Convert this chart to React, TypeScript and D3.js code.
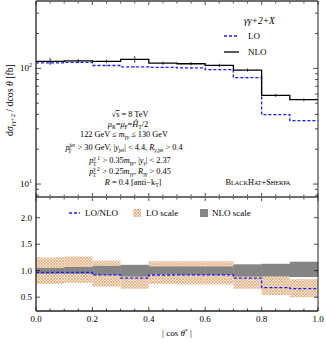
import React from 'react';
import * as d3 from 'd3';

// bin edges in |cos theta*|
const binEdges = [0, 0.1, 0.2, 0.3, 0.4, 0.5, 0.6, 0.7, 0.8, 0.9, 1.0];

// dsigma / dcos theta [fb]
const nloValues = [115, 116, 115, 119.6, 111, 109.6, 106, 96.7, 58.5, 53.6];
const nloErrors = [8, 4, 4, 8, 3.5, 3.5, 3.5, 3, 1.8, 1.7];
const loValues = [111.5, 112.5, 105.8, 102.9, 102, 100.8, 97.5, 83.2, 39.8, 35.4];
const loErrors = [1.5, 1.5, 1.5, 1.5, 1.2, 1.2, 1.2, 1, 0.6, 0.6];

// scale bands, as ratio to NLO
const loScaleHi = [1.25, 1.27, 1.19, 1.11, 1.18, 1.18, 1.18, 1.11, 0.89, 0.84];
const loScaleLo = [0.75, 0.77, 0.70, 0.66, 0.75, 0.74, 0.74, 0.66, 0.54, 0.50];
const nloScaleHi = [1.05, 1.07, 1.09, 1.11, 1.08, 1.08, 1.08, 1.12, 1.13, 1.17];
const nloScaleLo = [0.94, 0.94, 0.92, 0.89, 0.93, 0.92, 0.92, 0.89, 0.89, 0.88];

const xTicks = [0, 0.2, 0.4, 0.6, 0.8, 1.0];
const ratioTicks = [0.5, 1.0, 1.5, 2.0];

const infoLines = ['sqrt', 'mu', 'mgg', 'jet', 'g1', 'g2', 'R'];

const W = 326;
const H = 345;
const left = 36;
const right = 318;
const upTop = 1;
const upBottom = 197;
const lowBottom = 311;

const serif = '"Liberation Serif", "DejaVu Serif", serif';

function stepPath(vals: number[], y: (v: number) => number, x: d3.ScaleLinear<number, number>) {
  let d = '';
  vals.forEach((v, i) => {
    const x0 = x(binEdges[i]);
    const x1 = x(binEdges[i + 1]);
    d += (i === 0 ? `M${x0},${y(v)}` : `L${x0},${y(v)}`) + `L${x1},${y(v)}`;
  });
  return d;
}

export default function App() {
  const x = d3.scaleLinear().domain([0, 1]).range([left, right]);
  const yUp = d3.scaleLog().domain([7.73, 382]).range([upBottom, upTop]);
  const yLow = d3.scaleLinear().domain([0.24, 2.39]).range([lowBottom, upBottom]);

  const ratio = loValues.map((v, i) => v / nloValues[i]);

  const xMinor = d3.range(0, 1.0001, 0.05);
  const logMinor: number[] = [];
  [1, 10, 100].forEach(dec => {
    for (let k = 1; k < 10; k++) {
      const v = dec * k;
      if (v > 7.73 && v < 382) logMinor.push(v);
    }
  });

  const bandArea = (hi: number[], lo: number[]) =>
    hi.map((h, i) => ({ x0: x(binEdges[i]), x1: x(binEdges[i + 1]), y0: yLow(h), y1: yLow(lo[i]) }));

  const frame = '#6d6d6d';

  return (
    <svg width={W} height={H} style={{ position: 'absolute', left: 0, top: 0, background: '#fff' }}
      fontFamily={serif}>
      <defs>
        <pattern id="hatch" width="3" height="3" patternUnits="userSpaceOnUse">
          <rect width="3" height="3" fill="#f8e6d4" />
          <path d="M0,0L3,3M3,0L0,3" stroke="#d3935c" strokeWidth="0.55" />
        </pattern>
      </defs>

      {/* ---------- upper panel ---------- */}
      <path d={stepPath(loValues, yUp, x)} fill="none" stroke="#1a1aff" strokeWidth={1.3} strokeDasharray="3,2" />
      {loValues.map((v, i) => {
        const cx = x((binEdges[i] + binEdges[i + 1]) / 2);
        return <line key={'le' + i} x1={cx} x2={cx} y1={yUp(v + loErrors[i])} y2={yUp(v - loErrors[i])}
          stroke="#1a1aff" strokeWidth={0.8} />;
      })}
      <path d={stepPath(nloValues, yUp, x)} fill="none" stroke="#000" strokeWidth={1.3} />
      {nloValues.map((v, i) => {
        const cx = x((binEdges[i] + binEdges[i + 1]) / 2);
        return <line key={'ne' + i} x1={cx} x2={cx} y1={yUp(v + nloErrors[i])} y2={yUp(v - nloErrors[i])}
          stroke="#000" strokeWidth={0.8} />;
      })}

      {/* log ticks */}
      {logMinor.map(v => {
        const major = v === 10 || v === 100;
        const l = major ? 5 : 3;
        return (
          <g key={'lt' + v}>
            <line x1={left} x2={left + l} y1={yUp(v)} y2={yUp(v)} stroke="#000" strokeWidth={0.7} />
            <line x1={right} x2={right - l} y1={yUp(v)} y2={yUp(v)} stroke="#000" strokeWidth={0.7} />
          </g>
        );
      })}
      <text x={left - 4} y={yUp(100) + 3} fontSize={9} textAnchor="end">10<tspan dy={-4} fontSize={6}>2</tspan></text>
      <text x={left - 4} y={yUp(10) + 3} fontSize={9} textAnchor="end">10<tspan dy={-4} fontSize={6}>1</tspan></text>

      {/* x ticks both panels */}
      {xMinor.map((v, i) => {
        const major = Math.abs(v * 5 - Math.round(v * 5)) < 1e-6;
        const l = major ? 4 : 2.5;
        return (
          <g key={'xt' + i}>
            <line x1={x(v)} x2={x(v)} y1={upTop} y2={upTop + l} stroke="#000" strokeWidth={0.7} />
            <line x1={x(v)} x2={x(v)} y1={upBottom} y2={upBottom - l} stroke="#000" strokeWidth={0.7} />
            <line x1={x(v)} x2={x(v)} y1={upBottom} y2={upBottom + l} stroke="#000" strokeWidth={0.7} />
            <line x1={x(v)} x2={x(v)} y1={lowBottom} y2={lowBottom - l} stroke="#000" strokeWidth={0.7} />
          </g>
        );
      })}

      {/* process label and legend */}
      <text x={244} y={24} fontSize={9.5} fontStyle="italic">γγ+2+X</text>
      <line x1={224} x2={239} y1={36} y2={36} stroke="#1a1aff" strokeWidth={1.3} strokeDasharray="3,2" />
      <text x={248} y={39} fontSize={9}>LO</text>
      <line x1={224} x2={239} y1={52} y2={52} stroke="#000" strokeWidth={1.3} />
      <text x={248} y={55} fontSize={9}>NLO</text>

      {/* cuts */}
      <g fontSize={8.3} textAnchor="middle">
        {infoLines.map((k, i) => {
          const ys = [117, 127, 137, 150, 163, 174, 185];
          const y = ys[i];
          if (k === 'sqrt') return <text key={k} x={130} y={y}>√<tspan textDecoration="overline">s</tspan> = 8 TeV</text>;
          if (k === 'mu') return <text key={k} x={128} y={y}><tspan fontStyle="italic">μ</tspan><tspan dy={2} fontSize={5.5}>R</tspan><tspan dy={-2}>=</tspan><tspan fontStyle="italic">μ</tspan><tspan dy={2} fontSize={5.5}>F</tspan><tspan dy={-2}>=</tspan><tspan fontStyle="italic">Ĥ</tspan><tspan dy={2} fontSize={5.5}>T</tspan><tspan dy={-2}>/2</tspan></text>;
          if (k === 'mgg') return <text key={k} x={124} y={y}>122 GeV ≤ <tspan fontStyle="italic">m</tspan><tspan dy={2} fontSize={5.5} fontStyle="italic">γγ</tspan><tspan dy={-2}> ≤ 130 GeV</tspan></text>;
          if (k === 'jet') return <text key={k} x={124} y={y}><tspan fontStyle="italic">p</tspan><tspan dy={-3.5} fontSize={5.5}>jet</tspan><tspan dx={-7} dy={6} fontSize={5.5}>T</tspan><tspan dx={4} dy={-2.5}> &gt; 30 GeV, |</tspan><tspan fontStyle="italic">y</tspan><tspan dy={2} fontSize={5.5}>jet</tspan><tspan dy={-2}>| &lt; 4.4, </tspan><tspan fontStyle="italic">R</tspan><tspan dy={2} fontSize={5.5} fontStyle="italic">γ,</tspan><tspan fontSize={5.5}>jet</tspan><tspan dy={-2}> &gt; 0.4</tspan></text>;
          if (k === 'g1') return <text key={k} x={130} y={y}><tspan fontStyle="italic">p</tspan><tspan dy={-3.5} fontSize={5.5}>γ 1</tspan><tspan dx={-7} dy={6} fontSize={5.5}>T</tspan><tspan dx={4} dy={-2.5}> &gt; 0.35</tspan><tspan fontStyle="italic">m</tspan><tspan dy={2} fontSize={5.5} fontStyle="italic">γγ</tspan><tspan dy={-2}>, |</tspan><tspan fontStyle="italic">y</tspan><tspan dy={2} fontSize={5.5} fontStyle="italic">γ</tspan><tspan dy={-2}>| &lt; 2.37</tspan></text>;
          if (k === 'g2') return <text key={k} x={130} y={y}><tspan fontStyle="italic">p</tspan><tspan dy={-3.5} fontSize={5.5}>γ 2</tspan><tspan dx={-7} dy={6} fontSize={5.5}>T</tspan><tspan dx={4} dy={-2.5}> &gt; 0.25</tspan><tspan fontStyle="italic">m</tspan><tspan dy={2} fontSize={5.5} fontStyle="italic">γγ</tspan><tspan dy={-2}>, </tspan><tspan fontStyle="italic">R</tspan><tspan dy={2} fontSize={5.5} fontStyle="italic">γγ</tspan><tspan dy={-2}> &gt; 0.45</tspan></text>;
          return <text key={k} x={133} y={y}><tspan fontStyle="italic">R</tspan> = 0.4 [anti−k<tspan dy={2} fontSize={5.5}>T</tspan><tspan dy={-2}>]</tspan></text>;
        })}
      </g>
      <text x={258} y={185} fontSize={8.3} textAnchor="middle">B<tspan fontSize={6.2}>LACK</tspan>H<tspan fontSize={6.2}>AT</tspan>+S<tspan fontSize={6.2}>HERPA</tspan></text>

      {/* y label upper */}
      <text transform="translate(13,100) rotate(-90)" fontSize={9.8} textAnchor="middle">
        d<tspan fontStyle="italic">σ</tspan><tspan dy={2} fontSize={6.5} fontStyle="italic">γγ</tspan><tspan fontSize={6.5}>+2</tspan><tspan dy={-2}> / dcos </tspan><tspan fontStyle="italic">θ</tspan> [fb]
      </text>

      {/* ---------- lower panel ---------- */}
      {bandArea(loScaleHi, loScaleLo).map((b, i) => (
        <rect key={'lb' + i} x={b.x0} y={b.y0} width={b.x1 - b.x0} height={b.y1 - b.y0} fill="url(#hatch)" />
      ))}
      {bandArea(nloScaleHi, nloScaleLo).map((b, i) => (
        <rect key={'nb' + i} x={b.x0} y={b.y0} width={b.x1 - b.x0 + 0.3} height={b.y1 - b.y0} fill="#858585" />
      ))}
      <path d={stepPath(ratio, yLow, x)} fill="none" stroke="#1a1aff" strokeWidth={1.3} strokeDasharray="3,2" />

      {ratioTicks.map(v => (
        <g key={'rt' + v}>
          <line x1={left} x2={left + 4} y1={yLow(v)} y2={yLow(v)} stroke="#000" strokeWidth={0.7} />
          <line x1={right} x2={right - 4} y1={yLow(v)} y2={yLow(v)} stroke="#000" strokeWidth={0.7} />
          <text x={left - 4} y={yLow(v) + 3} fontSize={9} textAnchor="end">{v.toFixed(1)}</text>
        </g>
      ))}

      {/* lower legend */}
      <line x1={69} x2={80} y1={213} y2={213} stroke="#1a1aff" strokeWidth={1.3} strokeDasharray="3,2" />
      <text x={85} y={216} fontSize={9}>LO/NLO</text>
      <rect x={133} y={209} width={8} height={8} fill="url(#hatch)" />
      <text x={146} y={216} fontSize={9}>LO scale</text>
      <rect x={200} y={209} width={8} height={8} fill="#858585" />
      <text x={212} y={216} fontSize={9}>NLO scale</text>

      {/* x tick labels */}
      {xTicks.map(v => (
        <text key={'xl' + v} x={x(v)} y={322} fontSize={9} textAnchor="middle">{v.toFixed(1)}</text>
      ))}
      <text x={177} y={336} fontSize={9} textAnchor="middle">| cos <tspan fontStyle="italic">θ</tspan><tspan dy={-3} fontSize={6}>*</tspan><tspan dy={3}> |</tspan></text>

      {/* frames */}
      <line x1={left} x2={right} y1={upTop} y2={upTop} stroke={frame} strokeWidth={2} />
      <line x1={left} x2={right} y1={upBottom} y2={upBottom} stroke={frame} strokeWidth={2} />
      <line x1={left} x2={right} y1={lowBottom} y2={lowBottom} stroke="#222" strokeWidth={1.5} />
      <line x1={left} x2={left} y1={upTop} y2={lowBottom} stroke="#222" strokeWidth={1.3} />
      <line x1={right} x2={right} y1={upTop} y2={lowBottom} stroke="#222" strokeWidth={1} />
    </svg>
  );
}
